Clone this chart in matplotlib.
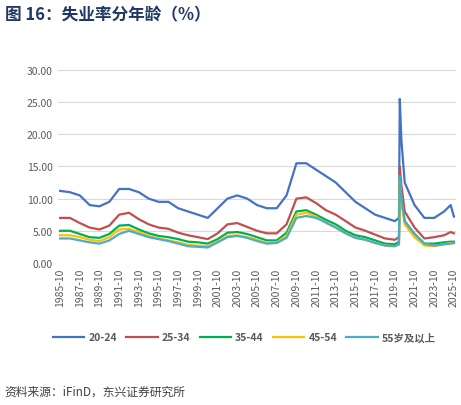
import matplotlib
matplotlib.use("Agg")
import matplotlib.pyplot as plt

plt.rcParams['font.family'] = ['Noto Sans CJK SC', 'DejaVu Sans']

dates = [f"{y}-10" for y in range(1985, 2020)] + ["2020-03", "2020-04", "2020-06", "2020-10"] + \
        [f"{y}-10" for y in range(2021, 2025)] + ["2025-06", "2025-10"]
s2024 = [11.2,11,10.5,9,8.8,9.5,11.5,11.5,11,10,9.5,9.5,8.5,8,7.5,7,8.5,10,10.5,10,9,8.5,8.5,10.5,15.5,
         15.5,14.5,13.5,12.5,11,9.5,8.5,7.5,7,6.5,7,25.5,19,12.5,9,7,7,8,9,7.2]
s2534 = [7,7,6.2,5.5,5.2,5.8,7.5,7.8,6.8,6,5.5,5.3,4.7,4.3,4,3.7,4.6,6,6.2,5.6,5,4.6,4.6,6,10,
         10.2,9.3,8.2,7.5,6.5,5.5,5,4.4,3.8,3.6,4,15,12,8,5.5,3.8,4,4.3,4.8,4.6]
s3544 = [5,5,4.5,4,3.9,4.5,5.8,5.9,5.2,4.6,4.2,4,3.7,3.3,3.2,3,3.7,4.7,4.8,4.5,4,3.5,3.5,4.7,8,
         8.2,7.5,6.7,6,5,4.3,4,3.5,3,2.9,3.3,13,10,6.5,4.5,3,3,3.2,3.3,3.3]
s4554 = [4.3,4.3,4,3.6,3.4,4,5.2,5.3,4.8,4.2,3.8,3.5,3.2,2.8,2.7,2.6,3.3,4.2,4.3,4,3.6,3.1,3.2,4.2,7.5,
         7.8,7.2,6.2,5.5,4.6,3.9,3.6,3.1,2.7,2.6,2.9,13,9.5,6,4,2.7,2.6,2.9,3.1,3.1]
s55 = [3.8,3.8,3.5,3.2,3.0,3.5,4.5,5.0,4.5,4.0,3.7,3.4,3.0,2.6,2.5,2.4,3.2,4.0,4.2,3.9,3.4,3.0,3.1,3.9,7.0,
       7.3,7.0,6.3,5.5,4.6,3.9,3.6,3.1,2.7,2.6,2.9,13.5,10,6.5,4.5,3,2.7,2.9,3,3.1]
labels = ["20-24", "25-34", "35-44", "45-54", "55岁及以上"]
colors = ["#4472C4", "#C0504D", "#00B050", "#FFC000", "#4BACC6"]
xticklabels = [f"{y}-10" for y in range(1985, 2026, 2)]

def idx(d):
    y, m = d.split("-")
    return (int(y) - 1985) * 12 + int(m) - 10

x = [idx(d) for d in dates]
fig = plt.figure(figsize=(4.61, 4.06), dpi=100)
ax = fig.add_axes([0.125, 0.35, 0.865, 0.475])
for s, lab, c in zip([s2024, s2534, s3544, s4554, s55], labels, colors):
    ax.plot(x, s, color=c, lw=1.6, label=lab)
ax.set_ylim(0, 30)
ax.set_yticks(range(0, 31, 5))
ax.set_yticklabels([f"{v:.2f}" for v in range(0, 31, 5)], fontsize=7.5, color="#595959")
ax.set_xlim(-3, idx("2025-10") + 3)
ax.set_xticks([idx(t) for t in xticklabels])
ax.set_xticklabels(xticklabels, rotation=90, fontsize=7.5, color="#595959")
ax.grid(axis='y', color="#D9D9D9", lw=0.8)
ax.set_axisbelow(True)
for sp in ax.spines.values():
    sp.set_visible(False)
ax.tick_params(length=0)
fig.legend(loc='center', bbox_to_anchor=(0.53, 0.167), ncol=5, frameon=False,
           handlelength=3.0, columnspacing=0.9, handletextpad=0.4,
           labelcolor="#595959", prop={'weight': 'bold', 'size': 7.5})
fig.text(0.01, 0.95, "图 16：失业率分年龄（%）", fontsize=12, weight='bold', color="#1F3864")
fig.text(0.01, 0.025, "资料来源：iFinD，东兴证券研究所", fontsize=8.5, style='italic', color="#404040")
fig.savefig("out.png", dpi=100)
